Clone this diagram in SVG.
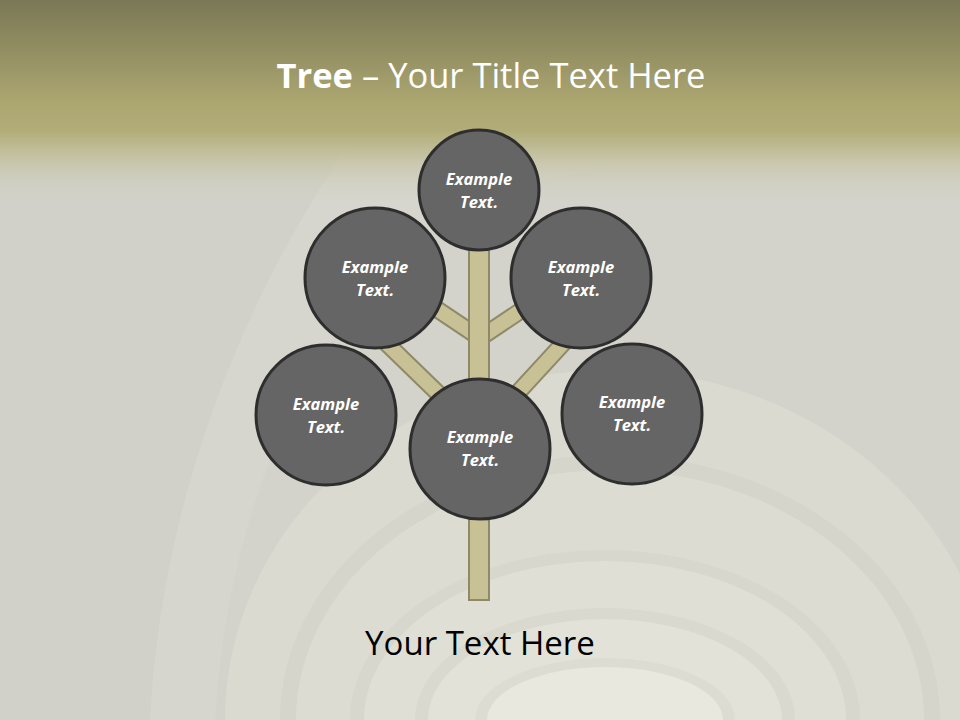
<svg xmlns="http://www.w3.org/2000/svg" width="960" height="720" viewBox="0 0 960 720">
<defs>
<linearGradient id="topg" x1="0" y1="0" x2="0" y2="1">
<stop offset="0" stop-color="#7a7856"/>
<stop offset="0.5" stop-color="#aca670"/>
<stop offset="0.64" stop-color="#b2ad78"/>
<stop offset="0.78" stop-color="#c4c1a0" stop-opacity="0.8"/>
<stop offset="1" stop-color="#d3d3cb" stop-opacity="0"/>
</linearGradient>
<style>
.leaf{fill:#656565;stroke:#2e2e2e;stroke-width:3}
.lt{font-family:"Open Sans","Liberation Sans",sans-serif;font-weight:bold;font-style:italic;font-size:16.5px;fill:#ffffff;text-anchor:middle}
.br{stroke:#8e8a68;stroke-width:18;stroke-linecap:butt}
.bri{stroke:#c9c196;stroke-width:14;stroke-linecap:butt}
</style>
</defs>
<rect x="0" y="0" width="960" height="720" fill="#d1d1c9"/>
<path d="M150,720 C160,520 230,320 345,150 L960,150 L960,720 Z" fill="#d6d6ce"/>
<path d="M215,720 C225,560 270,420 360,300 C420,220 500,180 600,170 L960,170 L960,720 Z" fill="#d3d3cb"/>
<g id="arches">
<path d="M225,720 A385,350 0 0 1 995,720 Z" fill="#dadad1"/>
<path d="M280,720 A330,265 0 0 1 940,720 Z" fill="#d5d5cc"/>
<path d="M296,720 A314,250 0 0 1 924,720 Z" fill="#dcdcd3"/>
<path d="M350,720 A255,170 0 0 1 860,720 Z" fill="#d7d7ce"/>
<path d="M364,720 A241,159 0 0 1 846,720 Z" fill="#dfdfd6"/>
<path d="M415,720 A190,112 0 0 1 795,720 Z" fill="#d9d9cf"/>
<path d="M428,720 A177,101 0 0 1 782,720 Z" fill="#e2e2d8"/>
<path d="M475,720 A130,62 0 0 1 735,720 Z" fill="#dcdcd2"/>
<path d="M487,720 A118,53 0 0 1 723,720 Z" fill="#e8e8de"/>
</g>
<rect x="0" y="0" width="960" height="205" fill="url(#topg)"/>
<text x="491" y="88" font-family="'Open Sans','Liberation Sans',sans-serif" font-size="34.5" fill="#ffffff" text-anchor="middle"><tspan font-weight="bold">Tree</tspan> – Your Title Text Here</text>
<g id="connectors">
<line class="br" x1="480" y1="338" x2="380" y2="271"/>
<line class="bri" x1="480" y1="338" x2="380" y2="271"/>
<line class="br" x1="480" y1="338" x2="580" y2="271"/>
<line class="bri" x1="480" y1="338" x2="580" y2="271"/>
<line class="br" x1="482" y1="436" x2="378" y2="335"/>
<line class="bri" x1="482" y1="436" x2="378" y2="335"/>
<line class="br" x1="478" y1="436" x2="580" y2="325"/>
<line class="bri" x1="478" y1="436" x2="580" y2="325"/>
<rect x="469" y="230" width="20" height="370" fill="#c9c196" stroke="#8e8a68" stroke-width="2"/>
</g>
<g id="n-top"><circle class="leaf" cx="479" cy="190" r="60"/><text class="lt" x="479" y="185">Example</text><text class="lt" x="479" y="208">Text.</text></g>
<g id="n-ul"><circle class="leaf" cx="375" cy="278" r="70"/><text class="lt" x="375" y="273">Example</text><text class="lt" x="375" y="296">Text.</text></g>
<g id="n-ur"><circle class="leaf" cx="581" cy="278" r="70"/><text class="lt" x="581" y="273">Example</text><text class="lt" x="581" y="296">Text.</text></g>
<g id="n-ll"><circle class="leaf" cx="326" cy="415" r="70"/><text class="lt" x="326" y="410">Example</text><text class="lt" x="326" y="433">Text.</text></g>
<g id="n-lr"><circle class="leaf" cx="632" cy="414" r="70"/><text class="lt" x="632" y="408">Example</text><text class="lt" x="632" y="431">Text.</text></g>
<g id="n-c"><circle class="leaf" cx="480" cy="449" r="70"/><text class="lt" x="480" y="443">Example</text><text class="lt" x="480" y="466">Text.</text></g>
<text x="480" y="655" font-family="'Open Sans','Liberation Sans',sans-serif" font-size="33" fill="#000000" text-anchor="middle">Your Text Here</text>
</svg>
